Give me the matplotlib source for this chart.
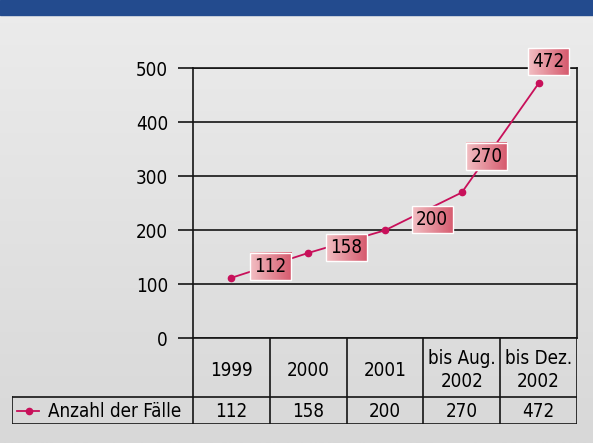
import numpy as np
import matplotlib
matplotlib.use("Agg")
import matplotlib.pyplot as plt
from matplotlib.colors import LinearSegmentedColormap
from matplotlib.patches import Rectangle

plt.rcParams['font.family'] = ['DejaVu Sans']
plt.rcParams['font.stretch'] = 'condensed'

# data
categories = ["1999", "2000", "2001", "bis Aug.\n2002", "bis Dez.\n2002"]
cases = [112, 158, 200, 270, 472]
series_name = "Anzahl der Fälle"
yticks = [0, 100, 200, 300, 400, 500]

# label box offsets from the point, in pixels (style)
label_dx = [39, 38, 47, 25, 10]
label_dy = [11, 5, 11, 36, 22]

W, H = 593, 443
line_col = "#C8105A"
edge = "#151515"
fs = 13.5

fig = plt.figure(figsize=(W / 100, H / 100), dpi=100)

# background gradient + blue band
bg = fig.add_axes([0, 0, 1, 1], zorder=-10)
bg.imshow(np.linspace(0, 1, 256)[:, None], aspect="auto", extent=[0, 1, 0, 1],
          cmap=LinearSegmentedColormap.from_list("bg", ["#ECECEC", "#D8D8D8"]))
bg.add_patch(Rectangle((0, 1 - 15 / H), 1, 15 / H, color="#234B8E"))
bg.set_xlim(0, 1)
bg.set_ylim(0, 1)
bg.axis("off")

# main chart
x0, x1, ytop, ybot = 193, 577, 68.3, 338.3
ax = fig.add_axes([x0 / W, 1 - ybot / H, (x1 - x0) / W, (ybot - ytop) / H])
ax.patch.set_alpha(0)
xs = np.arange(len(cases))
ax.plot(xs, cases, color=line_col, lw=1.3, marker="o", ms=4.5, zorder=3)
ax.set_xlim(-0.5, len(cases) - 0.5)
ax.set_ylim(0, 500)
ax.set_yticks(yticks)
ax.set_xticks([])
ax.tick_params(axis="y", length=11, width=1.2, color=edge, pad=7, labelsize=fs)
for v in yticks:
    ax.axhline(v, color=edge, lw=1.2, zorder=1)
for s in ["top", "bottom", "right", "left"]:
    ax.spines[s].set_color(edge)
    ax.spines[s].set_linewidth(1.2)

px_x = (x1 - x0) / len(cases)
px_y = (ybot - ytop) / 500
bw, bh = 41, 27
lab_cmap = LinearSegmentedColormap.from_list("lab", ["#F2BFC3", "#D65A6E"])
grad = np.linspace(0, 1, 128)[None, :]
for i, v in enumerate(cases):
    cx = xs[i] + label_dx[i] / px_x
    cy = v + label_dy[i] / px_y
    ext = [cx - bw / 2 / px_x, cx + bw / 2 / px_x, cy - bh / 2 / px_y, cy + bh / 2 / px_y]
    ax.imshow(grad, extent=ext, aspect="auto", cmap=lab_cmap, zorder=4, clip_on=False)
    ax.add_patch(Rectangle((ext[0], ext[2]), ext[1] - ext[0], ext[3] - ext[2],
                           fill=False, ec="white", lw=1, zorder=5, clip_on=False))
    ax.text(cx, cy, str(v), ha="center", va="center", fontsize=fs, color="black",
            zorder=6, clip_on=False)
ax.set_xlim(-0.5, len(cases) - 0.5)
ax.set_ylim(0, 500)

# data table below
tl, tb = 12, 424.3
tx = fig.add_axes([tl / W, 1 - tb / H, (x1 - tl) / W, (tb - ybot) / H])
tx.set_xlim((tl - x0) / px_x - 0.5, len(cases) - 0.5)
tx.set_ylim(tb - ybot, 0)
tx.axis("off")
hrow = 397.3 - ybot
lk = dict(color=edge, lw=1.2)
tx.plot([-0.5, len(cases) - 0.5], [hrow, hrow], **lk)
tx.plot([tx.get_xlim()[0], len(cases) - 0.5], [tb - ybot, tb - ybot], **lk)
tx.plot([tx.get_xlim()[0], -0.5], [hrow, hrow], **lk)
tx.plot([tx.get_xlim()[0]] * 2, [hrow, tb - ybot], **lk)
for i in range(len(cases) + 1):
    tx.plot([i - 0.5] * 2, [0, tb - ybot], **lk)
for i, (c, v) in enumerate(zip(categories, cases)):
    tx.text(i, 32 if "\n" not in c else 32, c, ha="center", va="center", fontsize=fs,
            linespacing=1.25)
    tx.text(i, (hrow + tb - ybot) / 2 + 0.5, str(v), ha="center", va="center", fontsize=fs)
lx0 = tx.get_xlim()[0]
ly = (hrow + tb - ybot) / 2
tx.plot([lx0 + 5 / px_x, lx0 + 27 / px_x], [ly, ly], color=line_col, lw=1.3)
tx.plot([lx0 + 17 / px_x], [ly], color=line_col, marker="o", ms=4.5)
tx.text(lx0 + 36 / px_x, ly + 0.5, series_name, ha="left", va="center", fontsize=fs)

fig.savefig("out.png", dpi=100)
